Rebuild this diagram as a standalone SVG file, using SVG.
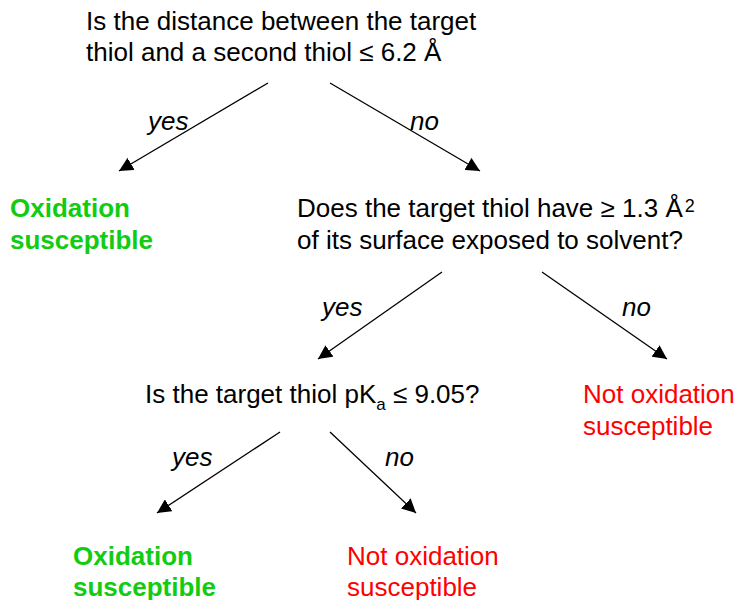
<svg xmlns="http://www.w3.org/2000/svg" width="737" height="600" viewBox="0 0 737 600">
<defs>
<marker id="ah" viewBox="0 0 10 10" refX="10" refY="5" markerWidth="14" markerHeight="14" markerUnits="userSpaceOnUse" orient="auto">
<path d="M0,0 L10,5 L0,10 Z" fill="#000"/>
</marker>
</defs>
<style>
text{font-family:"Liberation Sans",Arial,sans-serif;font-size:26px}
.q{fill:#000}
.lbl{font-style:italic;fill:#000}
.g{fill:#11CC11;font-weight:bold}
.r{fill:#FF0000}
.c line{stroke:#000;stroke-width:1.3;marker-end:url(#ah)}
</style>
<rect width="737" height="600" fill="#fff"/>
<g id="q1"><text class="q" x="86" y="30">Is the distance between the target</text><text class="q" x="86" y="61">thiol and a second thiol ≤ 6.2 Å</text></g>
<g id="ox1"><text class="g" x="10" y="217">Oxidation</text><text class="g" x="10" y="249">susceptible</text></g>
<g id="q2"><text class="q" x="297" y="217">Does the target thiol have ≥ 1.3 Å<tspan font-size="18" dx="2" dy="-5">2</tspan></text><text class="q" x="297" y="249">of its surface exposed to solvent?</text></g>
<g id="nox1"><text class="r" x="583" y="403">Not oxidation</text><text class="r" x="583" y="435">susceptible</text></g>
<g id="q3"><text class="q" x="145" y="403">Is the target thiol pK<tspan font-size="17" dy="7">a</tspan><tspan dy="-7"> ≤ 9.05?</tspan></text></g>
<g id="ox2"><text class="g" x="73" y="565">Oxidation</text><text class="g" x="73" y="596">susceptible</text></g>
<g id="nox2"><text class="r" x="347" y="565">Not oxidation</text><text class="r" x="347" y="596">susceptible</text></g>
<g id="connectors" class="c">
<line x1="268" y1="83" x2="119" y2="171"/>
<line x1="330" y1="83" x2="480" y2="171"/>
<line x1="442" y1="272" x2="318" y2="359"/>
<line x1="542" y1="272" x2="667" y2="359"/>
<line x1="280" y1="432" x2="157" y2="513"/>
<line x1="330" y1="432" x2="416" y2="513"/>
</g>
<g id="labels">
<text class="lbl" x="148" y="130">yes</text>
<text class="lbl" x="410" y="130">no</text>
<text class="lbl" x="322" y="316">yes</text>
<text class="lbl" x="622" y="316">no</text>
<text class="lbl" x="172" y="466">yes</text>
<text class="lbl" x="385" y="466">no</text>
</g>
</svg>
